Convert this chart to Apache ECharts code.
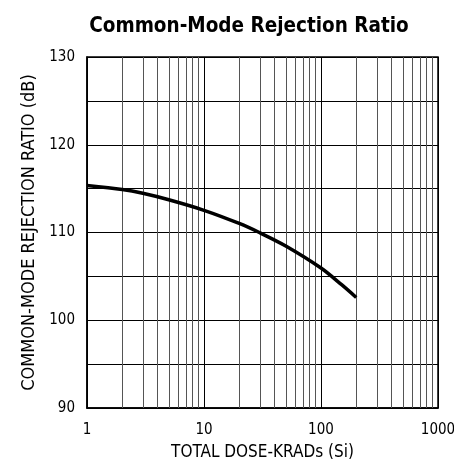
<!DOCTYPE html>
<html>
<head>
<meta charset="utf-8">
<script src="https://cdn.jsdelivr.net/npm/echarts@6/dist/echarts.min.js"></script>
<style>
  html, body { margin: 0; padding: 0; background: #fff; }
  #main { width: 454px; height: 467px; }
</style>
</head>
<body>
<div id="main"></div>
<script>
var FONT = '"Liberation Sans Narrow", "DejaVu Sans Condensed", "Liberation Sans", sans-serif';

// data
var doseKrad = [1, 2, 3, 5, 10, 20, 30, 50, 100, 150, 200];
var cmrrDb = [115.35, 114.9, 114.47, 113.73, 112.53, 111.03, 109.97, 108.46, 105.95, 104.05, 102.6];
// minor log gridlines between decades
var minorGrid = [2, 3, 4, 5, 6, 7, 8, 9, 20, 30, 40, 50, 60, 70, 80, 90, 200, 300, 400, 500, 600, 700, 800, 900];

var chartDom = document.getElementById('main');
var myChart = echarts.init(chartDom);

var option = {
  animation: false,
  title: {
    text: 'Common-Mode Rejection Ratio',
    left: 244,
    textAlign: 'center',
    top: 11,
    textStyle: { fontFamily: FONT, fontSize: 20.5, fontWeight: 'bold', color: '#000' }
  },
  grid: {
    left: 87, right: 16, top: 57, bottom: 59,
    outerBoundsMode: 'none',
    containLabel: false,
    show: true, borderColor: '#000', borderWidth: 1.5
  },
  xAxis: {
    type: 'log',
    logBase: 10,
    min: 1,
    max: 1000,
    name: 'TOTAL DOSE-KRADs (Si)',
    nameLocation: 'middle',
    nameGap: 36,
    nameTextStyle: { fontFamily: FONT, fontSize: 17, color: '#000' },
    axisLine: { lineStyle: { color: '#000', width: 1.5 } },
    axisTick: { show: false },
    axisLabel: {
      fontFamily: FONT, fontSize: 15, color: '#000', margin: 15,
      formatter: function (v) { return String(Math.round(v)); }
    },
    splitLine: { show: true, lineStyle: { color: '#000', width: 1 } }
  },
  yAxis: {
    type: 'value',
    min: 90,
    max: 130,
    interval: 5,
    name: 'COMMON-MODE REJECTION RATIO (dB)',
    nameLocation: 'middle',
    nameGap: 48,
    nameTextStyle: { fontFamily: FONT, fontSize: 18, color: '#000' },
    axisLine: { lineStyle: { color: '#000', width: 1.5 } },
    axisTick: { show: false },
    axisLabel: {
      fontFamily: FONT, fontSize: 15, color: '#000', margin: 12,
      padding: [6, 0, 0, 0],
      formatter: function (v) { return v % 10 === 0 ? String(v) : ''; }
    },
    splitLine: { show: true, lineStyle: { color: '#000', width: 1 } }
  },
  series: [
    {
      type: 'line',
      data: doseKrad.map(function (d, i) { return [d, cmrrDb[i]]; }),
      smooth: 0.3,
      showSymbol: false,
      lineStyle: { color: '#000', width: 3.5 },
      z: 5,
      markLine: {
        silent: true,
        symbol: ['none', 'none'],
        label: { show: false },
        lineStyle: { color: '#555', width: 1, type: 'solid' },
        data: minorGrid.map(function (v) { return { xAxis: v }; })
      }
    }
  ]
};

option && myChart.setOption(option);
</script>
</body>
</html>
